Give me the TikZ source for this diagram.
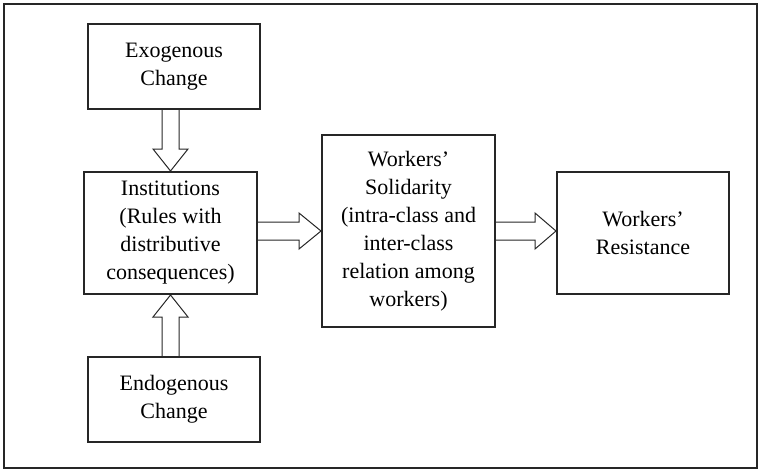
\documentclass[tikz,border=0pt]{standalone}
\usepackage{fontspec}
\setmainfont{Liberation Serif}
\usepackage{tikz}
\usetikzlibrary{calc}

\begin{document}
\begin{tikzpicture}[x=0.5pt, y=0.5pt,
  factor/.style={draw=black!85, line width=1pt, align=center,
                 inner sep=0pt, font=\fontsize{11}{14}\selectfont},
  blk/.style={draw=black!85, line width=0.5pt, line join=miter}]
\useasboundingbox (0,0) rectangle (763,473);
\draw[black!85, line width=0.8pt] (4,5) rectangle (757,469);
\node[factor, minimum width=86pt, minimum height=42.5pt] (exo) at (174,406.5)
  {Exogenous\\ Change};
\node[factor, minimum width=86.5pt, minimum height=61pt] (inst) at (170.5,240)
  {Institutions\\ (Rules with\\ distributive\\ consequences)};
\node[factor, minimum width=86pt, minimum height=42.5pt] (endo) at (174,73.5)
  {Endogenous\\ Change};
\node[factor, minimum width=86.5pt, minimum height=96pt] (sol) at (408.5,242)
  {Workers'\\ Solidarity\\ (intra-class and\\ inter-class\\ relation among\\ workers)};
\node[factor, minimum width=86pt, minimum height=61pt] (res) at (643,240)
  {Workers'\\ Resistance};
% hollow block arrows
\draw[blk] let \p1=(exo.south), \p2=(inst.north) in
  (\x2-4.25pt,\y1) -- (\x2-4.25pt,\y2+11pt) -- (\x2-8.75pt,\y2+11pt) -- (\p2)
  -- (\x2+8.75pt,\y2+11pt) -- (\x2+4.25pt,\y2+11pt) -- (\x2+4.25pt,\y1);
\draw[blk] let \p1=(endo.north), \p2=(inst.south) in
  (\x2-4.25pt,\y1) -- (\x2-4.25pt,\y2-11pt) -- (\x2-8.75pt,\y2-11pt) -- (\p2)
  -- (\x2+8.75pt,\y2-11pt) -- (\x2+4.25pt,\y2-11pt) -- (\x2+4.25pt,\y1);
\draw[blk] let \p1=(inst.east), \p2=(sol.west) in
  (\x1,\y2+4.5pt) -- (\x2-11pt,\y2+4.5pt) -- (\x2-11pt,\y2+9pt) -- (\p2)
  -- (\x2-11pt,\y2-9pt) -- (\x2-11pt,\y2-4.5pt) -- (\x1,\y2-4.5pt);
\draw[blk] let \p1=(sol.east), \p2=(res.west) in
  (\x1,\y1+4.5pt) -- (\x2-10.5pt,\y1+4.5pt) -- (\x2-10.5pt,\y1+9pt) -- (\x2,\y1)
  -- (\x2-10.5pt,\y1-9pt) -- (\x2-10.5pt,\y1-4.5pt) -- (\x1,\y1-4.5pt);
\end{tikzpicture}
\end{document}
